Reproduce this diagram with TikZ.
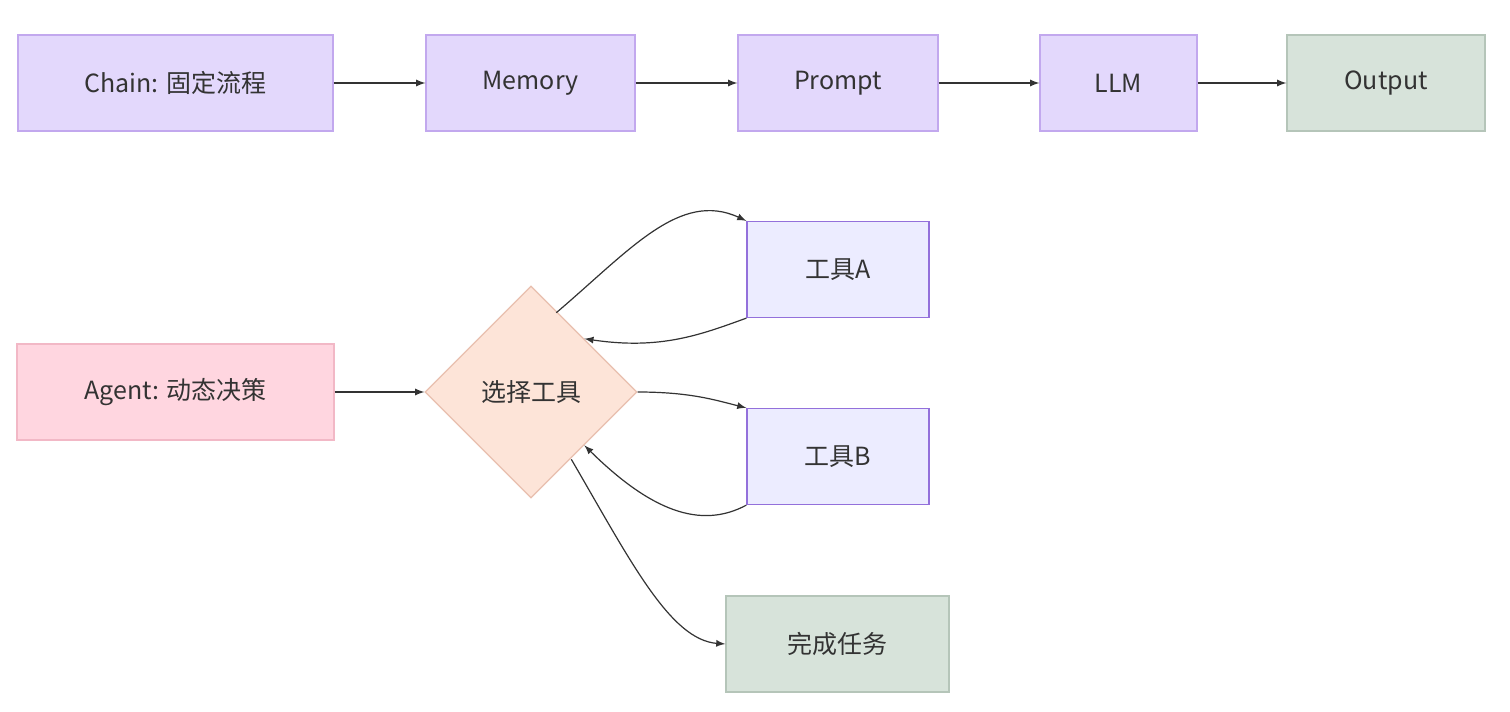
\documentclass[tikz,border=0pt]{standalone}
\usepackage{fontspec}
\setmainfont{Noto Sans CJK SC}
\usetikzlibrary{positioning}
\usetikzlibrary{shapes.geometric}
\definecolor{lightPurple}{HTML}{E3D8FC}
\definecolor{borderPurple}{HTML}{C2A8EE}
\definecolor{toolPurple}{HTML}{ECECFF}
\definecolor{toolBorder}{HTML}{9370DB}
\definecolor{lightGreen}{HTML}{D7E3DA}
\definecolor{borderGreen}{HTML}{B5C5B9}
\definecolor{lightPink}{HTML}{FFD6E0}
\definecolor{borderPink}{HTML}{F2B8C6}
\definecolor{lightPeach}{HTML}{FDE4D8}
\definecolor{borderPeach}{HTML}{E8BFAE}
\definecolor{arrowGray}{HTML}{333333}
\tikzset{
    box/.style={rectangle, draw, line width=0.6pt, minimum height=48pt, font=\fontsize{12.5}{15}\selectfont, text=arrowGray},
    flow/.style={-latex, draw=arrowGray, line width=0.6pt}
}

\begin{document}
\begin{tikzpicture}[x=0.5pt, y=-0.5pt, inner sep=0.0 pt, align=center]
    \useasboundingbox (0,0) rectangle (1510,712);

    % top row
    \node (chain) [box, fill=lightPurple, draw=borderPurple, minimum width=157.5pt] at (175.5,83) {Chain: 固定流程};
    \node (memory) [box, fill=lightPurple, draw=borderPurple, minimum width=104.5pt] at (530.5,83) {Memory};
    \node (prompt) [box, fill=lightPurple, draw=borderPurple, minimum width=100pt] at (838,83) {Prompt};
    \node (llm) [box, fill=lightPurple, draw=borderPurple, minimum width=78.5pt] at (1118.5,83) {LLM};
    \node (output) [box, fill=lightGreen, draw=borderGreen, minimum width=99pt] at (1386,83) {Output};

    \draw [flow] (chain.east) -- (memory.west);
    \draw [flow] (memory.east) -- (prompt.west);
    \draw [flow] (prompt.east) -- (llm.west);
    \draw [flow] (llm.east) -- (output.west);

    % agent part
    \node (agent) [box, fill=lightPink, draw=borderPink, minimum width=158.5pt] at (175.5,392) {Agent: 动态决策};
    \node (choose) [diamond, draw=borderPeach, fill=lightPeach, line width=0.6pt, minimum width=106pt, minimum height=106pt, aspect=1, font=\fontsize{12.5}{15}\selectfont, text=arrowGray] at (531,392) {选择工具};
    \node (toolA) [box, fill=toolPurple, draw=toolBorder, minimum width=91pt] at (838,269.5) {工具A};
    \node (toolB) [box, fill=toolPurple, draw=toolBorder, minimum width=91pt] at (838,456.5) {工具B};
    \node (done) [box, fill=lightGreen, draw=borderGreen, minimum width=111.5pt] at (837.5,644) {完成任务};

    \draw [flow] (agent.east) -- (choose.west);
    \draw [flow] (choose.north east) ++(-28,-26) .. controls (630,250) and (680,190) .. (toolA.north west);
    \draw [flow] (toolA.south west) .. controls (700,335) and (660,350) .. (choose.north east);
    \draw [flow] (choose.east) .. controls (690,392) and (715,400) .. (toolB.north west);
    \draw [flow] (toolB.south west) .. controls (700,530) and (650,510) .. (choose.south east);
    \draw [flow] (choose.south east) ++(-13,14) .. controls (630,560) and (670,640) .. (done.west);
\end{tikzpicture}
\end{document}
